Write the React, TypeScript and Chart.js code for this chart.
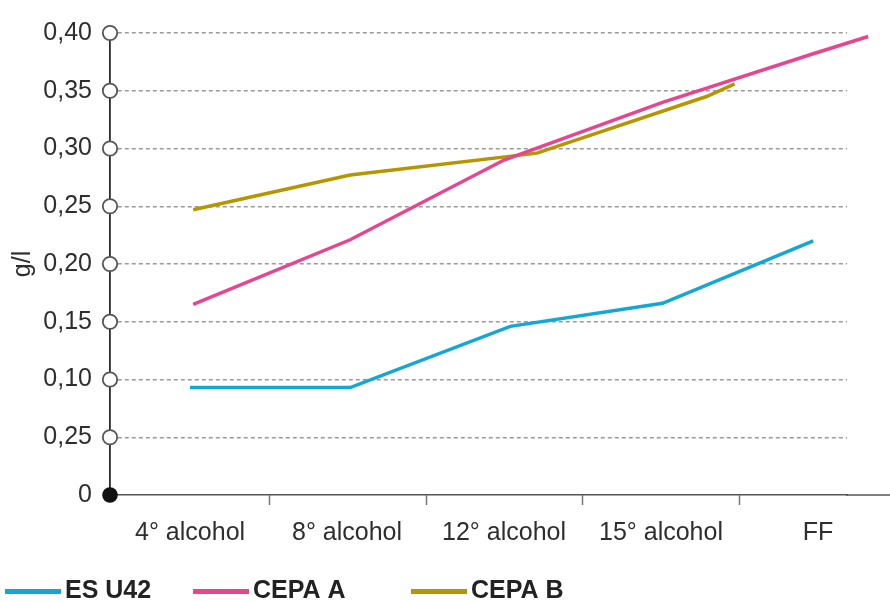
import React, { useEffect, useRef } from "react";
import { Chart, registerables } from "chart.js";

Chart.register(...registerables);

// ---- Data ----
const categories = ["4° alcohol", "8° alcohol", "12° alcohol", "15° alcohol", "FF"];
const yTickLabels = ["0", "0,25", "0,10", "0,15", "0,20", "0,25", "0,30", "0,35", "0,40"];
const seriesNames = ["ES U42", "CEPA A", "CEPA B"];
const seriesColors = ["#14a7d5", "#e6468f", "#b59500"];

// x positions are in category units (0 = "4° alcohol", 4 = "FF")
const esU42X = [0, 1.02, 2.04, 3.01, 3.97];
const esU42Y = [0.093, 0.093, 0.146, 0.166, 0.22];
const cepaAX = [0.02, 1.02, 2.0, 3.01, 3.97, 4.32];
const cepaAY = [0.165, 0.221, 0.29, 0.34, 0.382, 0.397];
const cepaBX = [0.02, 1.02, 2.21, 3.29, 3.47];
const cepaBY = [0.247, 0.277, 0.296, 0.345, 0.356];

const FONT = "'Liberation Sans', Arial, Helvetica, sans-serif";
const TEXT_COLOR = "#2e2e2e";

const toPoints = (xs: number[], ys: number[]) => xs.map((x, i) => ({ x, y: ys[i] }));

const decorPlugin = {
  id: "decor",
  afterDraw(chart: any) {
    const { ctx, chartArea, scales } = chart;
    const xs = scales.x;
    const ys = scales.y;
    ctx.save();
    // extend the x axis line to the right edge
    ctx.strokeStyle = "#555";
    ctx.lineWidth = 1.5;
    ctx.beginPath();
    ctx.moveTo(chartArea.right - 1, chartArea.bottom);
    ctx.lineTo(chart.width, chartArea.bottom);
    ctx.stroke();
    // tick marks between categories
    ctx.strokeStyle = "#777";
    ctx.lineWidth = 1.5;
    for (let i = 0; i < categories.length - 1; i++) {
      const px = Math.round(xs.getPixelForValue(i + 0.5)) + 0.5;
      ctx.beginPath();
      ctx.moveTo(px, chartArea.bottom);
      ctx.lineTo(px, chartArea.bottom + 10);
      ctx.stroke();
    }
    // circles on y axis
    ys.ticks.forEach((t: any, i: number) => {
      const py = ys.getPixelForValue(t.value);
      ctx.beginPath();
      if (i === 0) {
        ctx.arc(chartArea.left, py, 7.8, 0, Math.PI * 2);
        ctx.fillStyle = "#111";
        ctx.fill();
      } else {
        ctx.arc(chartArea.left, py, 7.2, 0, Math.PI * 2);
        ctx.fillStyle = "#fff";
        ctx.fill();
        ctx.lineWidth = 1.8;
        ctx.strokeStyle = "#555";
        ctx.stroke();
      }
    });
    // legend
    const legendStarts = [5, 193, 411];
    const legendY = 591;
    chart.data.datasets.forEach((ds: any, i: number) => {
      const x0 = legendStarts[i];
      ctx.strokeStyle = ds.borderColor;
      ctx.lineWidth = 5;
      ctx.beginPath();
      ctx.moveTo(x0, legendY + 0.5);
      ctx.lineTo(x0 + 56, legendY + 0.5);
      ctx.stroke();
      ctx.fillStyle = "#222";
      ctx.font = `bold 25px ${FONT}`;
      ctx.textBaseline = "middle";
      ctx.textAlign = "left";
      ctx.fillText(ds.label, x0 + 60, legendY);
    });
    ctx.restore();
  },
};

export default function App() {
  const canvasRef = useRef<HTMLCanvasElement | null>(null);

  useEffect(() => {
    if (!canvasRef.current) return;
    const seriesX = [esU42X, cepaAX, cepaBX];
    const seriesY = [esU42Y, cepaAY, cepaBY];
    const chart = new Chart(canvasRef.current, {
      type: "line",
      data: {
        datasets: seriesNames.map((name, i) => ({
          label: name,
          data: toPoints(seriesX[i], seriesY[i]),
          borderColor: seriesColors[i],
          backgroundColor: seriesColors[i],
          borderWidth: 3.5,
          pointRadius: 0,
          fill: false,
          tension: 0,
          clip: false as any,
        })),
      },
      options: {
        responsive: false,
        animation: false,
        layout: { padding: { top: 31, right: 43, bottom: 50, left: 0 } },
        plugins: {
          legend: { display: false },
          tooltip: { enabled: false },
        },
        scales: {
          x: {
            type: "linear",
            min: -0.51,
            max: 4.185,
            afterBuildTicks: (s: any) => {
              s.ticks = categories.map((_, i) => ({ value: i }));
            },
            afterFit: (s: any) => {
              s.height = 56;
            },
            ticks: {
              autoSkip: false,
              maxRotation: 0,
              padding: 15,
              color: TEXT_COLOR,
              font: { family: FONT, size: 25 },
              callback: (v: any) => categories[Math.round(Number(v))],
            },
            grid: { display: false },
            border: { display: true, color: "#555", width: 1.5 },
          },
          y: {
            min: 0,
            max: 0.4,
            afterFit: (s: any) => {
              s.width = 110;
            },
            ticks: {
              stepSize: 0.05,
              padding: 18,
              color: TEXT_COLOR,
              font: { family: FONT, size: 25 },
              callback: (_v: any, i: number) => yTickLabels[i],
            },
            grid: {
              color: (c: any) => (c.index === 0 ? "rgba(0,0,0,0)" : "#9a9a9a"),
              lineWidth: 1.5,
              drawTicks: false,
            },
            border: { display: true, color: "#2a2a2a", width: 1.8, dash: [4, 3] },
            title: {
              display: true,
              text: "g/l",
              color: TEXT_COLOR,
              font: { family: FONT, size: 25 },
              padding: { top: 8, bottom: 0 },
            },
          },
        },
      },
      plugins: [decorPlugin],
    } as any);
    return () => chart.destroy();
  }, []);

  return (
    <div style={{ position: "fixed", left: 0, top: 0, width: 890, height: 601, background: "#fff" }}>
      <canvas ref={canvasRef} width={890} height={601} style={{ display: "block" }} />
    </div>
  );
}
